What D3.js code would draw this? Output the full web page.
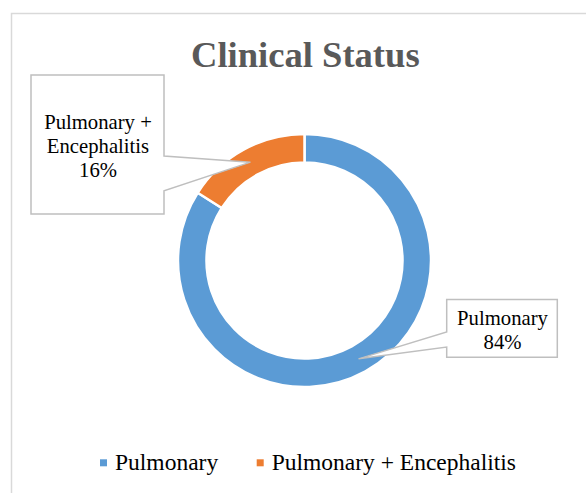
<!DOCTYPE html>
<html><head><meta charset="utf-8">
<script src="https://cdn.jsdelivr.net/npm/d3@7/dist/d3.min.js"></script>
<style>
html,body{margin:0;padding:0;background:#fff;}
svg{display:block;}
</style></head>
<body>
<svg id="chart" width="586" height="493"></svg>
<script>
const title = "Clinical Status";
const categories = ["Pulmonary", "Pulmonary + Encephalitis"];
const values = [84, 16];
const labelLines = [["Pulmonary", "84%"], ["Pulmonary +", "Encephalitis", "16%"]];
const colors = ["#5B9BD5", "#ED7D31"];

const FONT = "Liberation Serif";
const svg = d3.select("#chart");
const W = 586, H = 493;
svg.append("rect").attr("x", 0).attr("y", 0).attr("width", W).attr("height", H).attr("fill", "#fff");
// chart border (extends past right/bottom edge)
svg.append("rect").attr("x", 11.5).attr("y", 13.5).attr("width", 600).attr("height", 500)
  .attr("fill", "none").attr("stroke", "#D9D9D9").attr("stroke-width", 1.5);

svg.append("text").attr("x", 305.3).attr("y", 67.3).attr("text-anchor", "middle")
  .style("font-family", FONT)
  .attr("font-size", 36.6).attr("font-weight", "bold").attr("fill", "#595959").text(title);

const cx = 304.5, cy = 260.5, rOut = 126.5, rIn = 98;
const pie = d3.pie().sort(null).value(d => d)(values);
const arc = d3.arc().innerRadius(rIn).outerRadius(rOut);
const g = svg.append("g").attr("transform", `translate(${cx},${cy})`);
g.selectAll("path").data(pie).join("path")
  .attr("d", arc).attr("fill", (d, i) => colors[i])
  .attr("stroke", "#fff").attr("stroke-width", 2.5).attr("stroke-linejoin", "miter");

// callouts
const boxes = [
  {x0: 446.7, y0: 299.5, x1: 557.3, y1: 357.3, side: "left", w0: 332, w1: 347, base: 325, lh: 23.5},
  {x0: 31, y0: 75, x1: 164, y1: 214, side: "right", w0: 156, w1: 190.7, base: 128.5, lh: 24}
];
pie.forEach((d, i) => {
  const b = boxes[i];
  const c = arc.centroid(d);
  const px = cx + c[0], py = cy + c[1];
  let p;
  if (b.side === "right") {
    p = `M${b.x0},${b.y0}H${b.x1}V${b.w0}L${px},${py}L${b.x1},${b.w1}V${b.y1}H${b.x0}Z`;
  } else {
    p = `M${b.x0},${b.y0}H${b.x1}V${b.y1}H${b.x0}V${b.w1}L${px},${py}L${b.x0},${b.w0}Z`;
  }
  svg.append("path").attr("d", p).attr("fill", "#fff").attr("stroke", "#BFBFBF")
    .attr("stroke-width", 1.5).attr("stroke-linejoin", "miter");
  const t = svg.append("text").attr("text-anchor", "middle").style("font-family", FONT)
    .attr("font-size", 20.7).attr("fill", "#000");
  labelLines[i].forEach((ln, j) => {
    t.append("tspan").attr("x", (b.x0 + b.x1) / 2 + 0.5).attr("y", b.base + j * b.lh).text(ln);
  });
});

// legend
const legX = [100, 256.7];
categories.forEach((c, i) => {
  svg.append("rect").attr("x", legX[i]).attr("y", 459.3).attr("width", 7).attr("height", 7).attr("fill", colors[i]);
  svg.append("text").attr("x", legX[i] + 15).attr("y", 469.5).style("font-family", FONT)
    .attr("font-size", 23.5).attr("fill", "#000").text(c);
});
</script>
</body></html>
